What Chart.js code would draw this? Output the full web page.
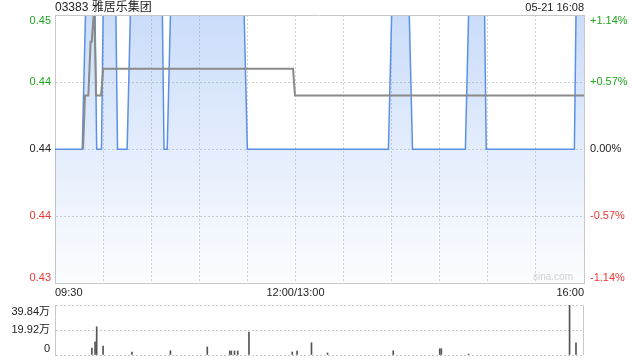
<!DOCTYPE html>
<html><head><meta charset="utf-8">
<script src="https://cdn.jsdelivr.net/npm/chart.js@4/dist/chart.umd.min.js"></script>
<style>
html,body{margin:0;padding:0;background:#fff;width:640px;height:360px;overflow:hidden;}
#wrap{position:relative;width:640px;height:360px;font-family:"Liberation Sans",Arial,"Noto Sans CJK SC",sans-serif;}
#title{position:absolute;left:55px;top:0px;font-size:12px;line-height:14px;color:#222;white-space:nowrap;}
#date{position:absolute;right:56px;top:0px;font-size:11px;line-height:14px;color:#222;white-space:nowrap;}
#wm{position:absolute;right:67px;top:271px;font-size:10px;line-height:12px;color:#d0d0d0;}
#main{position:absolute;left:0;top:0;width:640px;height:300px;}
#vol{position:absolute;left:0;top:300px;width:640px;height:60px;}
</style></head><body>
<div id="wrap">
<canvas id="main" width="640" height="300"></canvas>
<canvas id="vol" width="640" height="60"></canvas>
<div id="title">03383 雅居乐集团</div>
<div id="date">05-21 16:08</div>
<div id="wm">sina.com</div>
</div>
<script>
const FONT = '"Liberation Sans", Arial, "Noto Sans CJK SC", sans-serif';
const prevClose = 0.44;

// minutes since 09:30 (trading minutes, lunch break removed)
const priceTimes  = [0, 17, 19, 25, 26, 29, 30, 38, 39, 45, 47, 67, 68, 70, 72, 118, 120, 208, 210, 221, 223, 256, 258, 268, 269, 324, 325, 330];
const priceValues = [0.44, 0.44, 0.445, 0.445, 0.44, 0.44, 0.445, 0.445, 0.44, 0.44, 0.445, 0.445, 0.44, 0.44, 0.445, 0.445, 0.44, 0.44, 0.445, 0.445, 0.44, 0.44, 0.445, 0.445, 0.44, 0.44, 0.445, 0.445];

const avgTimes  = [17.5, 18.7, 20.8, 22.2, 22.9, 24.1, 24.6, 25.6, 28.7, 30.1, 148.5, 149.7, 330];
const avgValues = [0.44, 0.442, 0.442, 0.444, 0.444, 0.445, 0.445, 0.442, 0.442, 0.443, 0.443, 0.442, 0.442];

const volTimes  = [23, 25, 26, 30, 48, 72, 95, 109, 110, 112, 114, 121, 148, 151, 160, 170, 211, 240, 241, 258, 321, 325];
const volValues = [56000, 104000, 225000, 72000, 24000, 34000, 64000, 32000, 32000, 32000, 32000, 183000, 24000, 32000, 98000, 16000, 34000, 50000, 50000, 8000, 398400, 96000];

const priceTicks = [0.435, 0.4375, 0.44, 0.4425, 0.445];
const priceTickLabels = ['0.43', '0.44', '0.44', '0.44', '0.45'];
const pctTickLabels = ['-1.14%', '-0.57%', '0.00%', '+0.57%', '+1.14%'];
const gridMinutes = [0, 30, 60, 90, 120, 150, 180, 210, 240, 270, 300, 330];
const timeTickMinutes = [0, 150, 330];
const timeTickLabels = ['09:30', '12:00/13:00', '16:00'];
const volTicks = [0, 199200, 398400];
const volTickLabels = ['0', '19.92万', '39.84万'];

function shift(label, i, n) {
  if (i === 0) return [label, ''];
  if (i === n - 1) return ['', label];
  return label;
}
function colorFor(v) {
  if (v > prevClose + 1e-9) return '#1fa51f';
  if (v < prevClose - 1e-9) return '#ee3535';
  return '#222';
}
function fixV(w) {
  return s => { s.width = w; s.paddingTop = 0; s.paddingBottom = 0; };
}
const borderPlugin = {
  id: 'frame',
  afterDraw(chart, args, opts) {
    const a = chart.chartArea, c = chart.ctx;
    c.save();
    c.strokeStyle = '#c8c8c8';
    c.lineWidth = 1;
    c.beginPath();
    if (opts.top) { c.moveTo(a.left, a.top + 0.5); c.lineTo(a.right, a.top + 0.5); }
    if (opts.right) { c.moveTo(a.right - 0.5, a.top); c.lineTo(a.right - 0.5, a.bottom); }
    c.stroke();
    c.restore();
  }
};

new Chart(document.getElementById('main'), {
  type: 'line',
  data: {
    datasets: [
      {
        data: avgTimes.map((t, i) => ({x: t, y: avgValues[i]})),
        borderColor: '#8a8a8a', borderWidth: 2, pointRadius: 0, fill: false, tension: 0,
        yAxisID: 'y'
      },
      {
        data: priceTimes.map((t, i) => ({x: t, y: priceValues[i]})),
        borderColor: '#5b90e8', borderWidth: 1.5, pointRadius: 0, tension: 0,
        fill: 'start',
        backgroundColor: (ctx) => {
          const a = ctx.chart.chartArea;
          if (!a) return 'rgba(110,160,240,0.2)';
          const g = ctx.chart.ctx.createLinearGradient(0, a.top, 0, a.bottom);
          g.addColorStop(0, 'rgba(110,160,240,0.36)');
          g.addColorStop(1, 'rgba(110,160,240,0.02)');
          return g;
        },
        yAxisID: 'y'
      }
    ]
  },
  options: {
    responsive: false, animation: false, devicePixelRatio: 1,
    layout: {padding: {top: 15, left: 0, right: 0, bottom: 0}},
    plugins: {legend: {display: false}, tooltip: {enabled: false}, frame: {top: true}},
    scales: {
      x: {
        type: 'linear', min: 0, max: 330,
        afterBuildTicks: s => { s.ticks = gridMinutes.map(v => ({value: v})); },
        ticks: {
          autoSkip: false, maxRotation: 0, align: 'inner', padding: 3,
          font: {family: FONT, size: 11}, color: '#222',
          callback: v => { const i = timeTickMinutes.indexOf(v); return i >= 0 ? timeTickLabels[i] : ''; }
        },
        grid: {color: '#d0d0d0', drawTicks: false},
        border: {color: '#c8c8c8', dash: [2, 2]},
        afterFit: s => { s.height = 16.5; s.paddingLeft = 0; s.paddingRight = 0; }
      },
      y: {
        position: 'left', min: 0.435, max: 0.445,
        afterBuildTicks: s => { s.ticks = priceTicks.map(v => ({value: v})); },
        ticks: {
          autoSkip: false, padding: 4, font: {family: FONT, size: 11, lineHeight: 1},
          color: c => colorFor(c.tick.value),
          callback: (v, i) => shift(priceTickLabels[i], i, priceTicks.length)
        },
        grid: {color: '#d0d0d0', drawTicks: false},
        border: {color: '#c8c8c8', dash: [2, 2]},
        afterFit: fixV(55)
      },
      y2: {
        position: 'right', min: 0.435, max: 0.445,
        afterBuildTicks: s => { s.ticks = priceTicks.map(v => ({value: v})); },
        ticks: {
          autoSkip: false, padding: 6, font: {family: FONT, size: 11, lineHeight: 1},
          color: c => colorFor(c.tick.value),
          callback: (v, i) => shift(pctTickLabels[i], i, priceTicks.length)
        },
        grid: {drawOnChartArea: false, drawTicks: false},
        border: {color: '#c8c8c8'},
        afterFit: fixV(56)
      }
    }
  },
  plugins: [borderPlugin]
});

new Chart(document.getElementById('vol'), {
  type: 'bar',
  data: {
    datasets: [{
      data: volTimes.map((t, i) => ({x: t, y: volValues[i]})),
      backgroundColor: '#555', borderWidth: 0, barThickness: 1
    }]
  },
  options: {
    responsive: false, animation: false, devicePixelRatio: 1,
    layout: {padding: {top: 5, bottom: 5, left: 0, right: 56}},
    plugins: {legend: {display: false}, tooltip: {enabled: false}, frame: {right: true}},
    scales: {
      x: {type: 'linear', min: 0, max: 330, display: false, offset: false},
      y: {
        position: 'left', min: 0, max: 398400,
        afterBuildTicks: s => { s.ticks = volTicks.map(v => ({value: v})); },
        ticks: {
          autoSkip: false, padding: 5, font: {family: FONT, size: 11, lineHeight: 13 / 11}, color: '#222',
          callback: (v, i) => shift(volTickLabels[i], i, volTicks.length)
        },
        grid: {color: '#c8c8c8', drawTicks: false},
        border: {color: '#c8c8c8', dash: [2, 2]},
        afterFit: fixV(55)
      }
    }
  },
  plugins: [borderPlugin]
});
</script>
</body></html>
